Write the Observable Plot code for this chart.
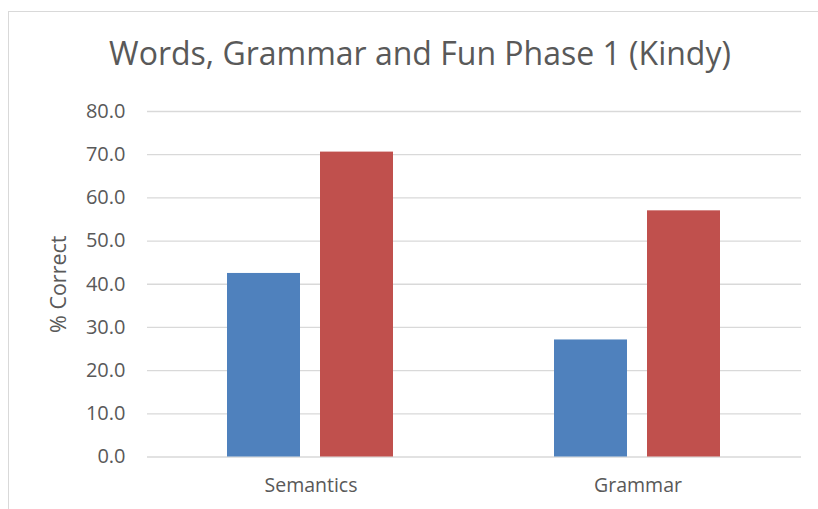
<!DOCTYPE html>
<html>
<head>
<meta charset="utf-8">
<script src="https://cdn.jsdelivr.net/npm/d3@7"></script>
<script src="https://cdn.jsdelivr.net/npm/@observablehq/plot@0.6"></script>
<style>
  html, body { margin: 0; padding: 0; background: #fff; }
  #wrap { position: relative; width: 818px; height: 509px; overflow: hidden; font-family: "Open Sans", sans-serif; }
  #frame { position: absolute; left: 8px; top: 11px; width: 900px; height: 600px; border-left: 1.5px solid #d9d9d9; border-top: 1.5px solid #d9d9d9; }
  #title { position: absolute; left: 0; top: 37px; width: 840px; height: 40px; text-align: center; font-size: 32px; line-height: 1; color: #595959; white-space: nowrap; }
  #chart { position: absolute; left: 0; top: 80px; }
</style>
</head>
<body>
<div id="wrap">
  <div id="frame"></div>
  <div id="title">Words, Grammar and Fun Phase 1 (Kindy)</div>
  <div id="chart"></div>
</div>
<script>
const title = "Words, Grammar and Fun Phase 1 (Kindy)";
const categories = ["Semantics", "Grammar"];
const seriesNames = ["Series 1", "Series 2"];
const series1 = [42.5, 27.1];
const series2 = [70.6, 57.0];
const yTicks = [0, 10, 20, 30, 40, 50, 60, 70, 80];
const yLabel = "% Correct";
const colors = ["#4f81bd", "#c0504d"];

const data = [];
categories.forEach((c, i) => {
  data.push({category: c, series: seriesNames[0], value: series1[i]});
  data.push({category: c, series: seriesNames[1], value: series2[i]});
});

const chart = Plot.plot({
  width: 818,
  height: 429,
  marginTop: 31,
  marginBottom: 52.5,
  marginLeft: 147,
  marginRight: 17,
  style: {fontFamily: "Open Sans, sans-serif", color: "#595959", background: "transparent"},
  fx: {domain: categories, padding: 0, label: null, axis: null},
  x: {domain: seriesNames, paddingInner: 0.211, paddingOuter: 0.858, axis: null},
  y: {domain: [0, 80], ticks: yTicks, label: null},
  color: {domain: seriesNames, range: colors},
  marks: [
    Plot.ruleY(yTicks, {stroke: "#d9d9d9", strokeWidth: 1.3}),
    Plot.barY(data, {fx: "category", x: "series", y: "value", fill: "series"}),
    Plot.axisY({ticks: yTicks, tickSize: 0, tickPadding: 22, tickFormat: d => d.toFixed(1), fontSize: 20, fill: "#595959", label: yLabel, labelAnchor: "center", labelOffset: 97, labelArrow: "none"}),
    Plot.axisFx({anchor: "bottom", tickSize: 0, tickPadding: 21, fontSize: 19.5, fill: "#595959", label: null})
  ]
});
chart.querySelectorAll("text").forEach(t => {
  if (t.textContent === yLabel) t.setAttribute("font-size", 21.5);
});
document.getElementById("chart").appendChild(chart);
</script>
</body>
</html>
